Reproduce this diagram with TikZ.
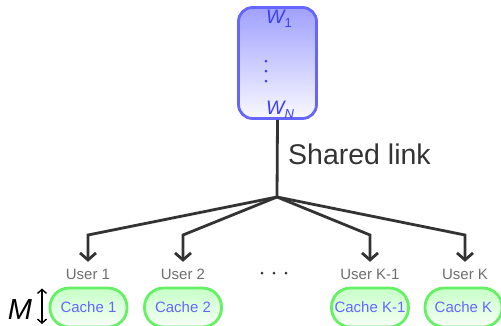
\documentclass[tikz,border=0pt]{standalone}
\usepackage{fontspec}
\setmainfont{Liberation Sans}
\usetikzlibrary{arrows.meta}
\definecolor{linkgray}{HTML}{333333}
\definecolor{usergray}{HTML}{6E6E6E}
\definecolor{serverblue}{HTML}{6666FF}
\definecolor{textblue}{HTML}{4040F0}
\definecolor{cachegreen}{HTML}{66F066}
\tikzset{
  link/.style={draw=linkgray, line width=2.8pt, line join=miter},
  linkarrow/.style={link, -{Straight Barb[length=7pt,width=16pt,line width=2.8pt]}},
  userlabel/.style={font=\fontsize{15}{15}\selectfont, text=usergray,
    text height=11pt, text depth=0pt, inner xsep=0pt, inner ysep=6pt},
  cachebox/.style={draw=cachegreen, line width=2.8pt, rounded corners=19pt,
    minimum width=77pt, minimum height=39pt, inner sep=1pt,
    top color=green!22!white, bottom color=green!3!white,
    font=\fontsize{15}{15}\selectfont, text=serverblue},
  serverbox/.style={draw=serverblue, line width=2.8pt, rounded corners=14pt,
    minimum width=78pt, minimum height=111pt,
    top color=serverblue!62!white, bottom color=serverblue!4!white},
  wlabel/.style={text=textblue, inner sep=0pt},
  dot/.style={circle, fill=#1, inner sep=0pt, minimum size=3pt},
}
\newcommand{\wsym}[1]{{\fontsize{19.5}{19.5}\selectfont\itshape W}\raisebox{-4.5pt}{\fontsize{13}{13}\selectfont #1}}
\begin{document}
\begin{tikzpicture}[x=1pt, y=-1pt]
  \useasboundingbox (0,0) rectangle (501,325);

  % file server holding the N files
  \node[serverbox] (server) at (277.5,63) {};
  \node[wlabel, anchor=base west] (w1) at (266,23) {\wsym{1}};
  \node[wlabel, anchor=base west] (wn) at (266,114) {\wsym{\itshape N}};
  \node[dot=textblue] (v1) at (266,61) {};
  \node[dot=textblue] (v2) at (266,71) {};
  \node[dot=textblue] (v3) at (266,81) {};

  % shared broadcast link
  \coordinate (J) at (277,197);
  \draw[link] (server.south) -- (J);
  \node[anchor=base west, inner sep=0pt, text=linkgray,
        font=\fontsize{28.5}{28.5}\selectfont] (shared) at (288,164) {Shared link};

  % users
  \node[userlabel, anchor=base] (u1) at (88,279) {User 1};
  \node[userlabel, anchor=base] (u2) at (183,279) {User 2};
  \node[userlabel, anchor=base] (uk1) at (370,279) {User K-1};
  \node[userlabel, anchor=base] (uk) at (465,279) {User K};
  \node[dot=linkgray] (h1) at (262,273) {};
  \node[dot=linkgray] (h2) at (274,273) {};
  \node[dot=linkgray] (h3) at (286,273) {};

  \draw[linkarrow] (J) -- (88,235) -- (u1.north);
  \draw[linkarrow] (J) -- (183,235) -- (u2.north);
  \draw[linkarrow] (J) -- (370,235) -- (uk1.north);
  \draw[linkarrow] (J) -- (465,235) -- (uk.north);

  % caches
  \node[cachebox] (c1) at (88.5,307.5) {Cache 1};
  \node[cachebox] (c2) at (183,307.5) {Cache 2};
  \node[cachebox] (ck1) at (370,307.5) {Cache K-1};
  \node[cachebox] (ck) at (463.5,307.5) {Cache K};

  % cache size
  \node[font=\fontsize{29}{29}\selectfont\itshape, inner sep=0pt] (M) at (20,310) {M};
  \coordinate (mtop) at (42,288.5);
  \coordinate (mbot) at (42,324);
  \draw[line width=1.4pt, {Straight Barb[length=4pt,width=9pt]}-{Straight Barb[length=4pt,width=9pt]}] (mtop) -- (mbot);
\end{tikzpicture}
\end{document}
